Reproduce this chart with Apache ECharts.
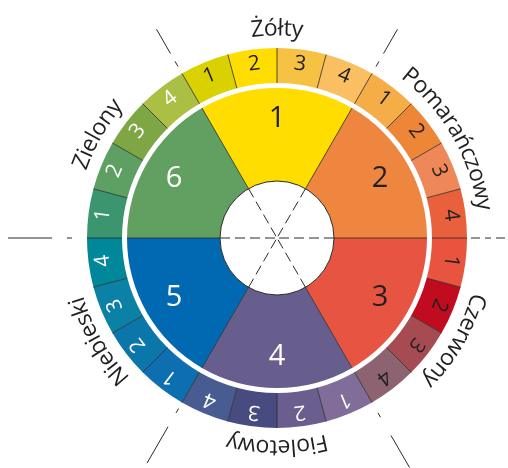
<!DOCTYPE html>
<html>
<head>
<meta charset="utf-8">
<script src="https://cdn.jsdelivr.net/npm/echarts@6/dist/echarts.min.js"></script>
<style>
html,body{margin:0;padding:0;background:#fff;}
#chart{width:508px;height:468px;}
</style>
</head>
<body>
<div id="chart"></div>
<script>
// ---- data ----
const groupNames = ['Żółty', 'Pomarańczowy', 'Czerwony', 'Fioletowy', 'Niebieski', 'Zielony'];
const innerLabels = ['1', '2', '3', '4', '5', '6'];
const innerValues = [1, 1, 1, 1, 1, 1];
const innerColors = ['#FFDD00', '#EE8640', '#E85442', '#675E8D', '#0069B2', '#62A062'];
const innerTextColors = ['#231F20', '#231F20', '#231F20', '#ffffff', '#ffffff', '#ffffff'];
const outerLabels = ['1','2','3','4', '1','2','3','4', '1','2','3','4', '1','2','3','4', '1','2','3','4', '1','2','3','4'];
const outerValues = [1,1,1,1, 1,1,1,1, 1,1,1,1, 1,1,1,1, 1,1,1,1, 1,1,1,1];
const outerColors = [
  '#D9D100', '#FFDD00', '#F5C244', '#F9BF60',
  '#F5AD47', '#EE8638', '#EF8858', '#E9613C',
  '#E9543F', '#C10B1F', '#A54B51', '#8D6372',
  '#806D9A', '#6A5E8F', '#474B80', '#485C91',
  '#0E6FB0', '#0B76AA', '#0C81A6', '#00879A',
  '#3B966F', '#5E9F63', '#7FA644', '#ABBF44'
];
const outerTextColors = [
  '#231F20','#231F20','#231F20','#231F20',
  '#231F20','#231F20','#231F20','#231F20',
  '#231F20','#231F20','#231F20','#231F20',
  '#ffffff','#ffffff','#ffffff','#ffffff',
  '#ffffff','#ffffff','#ffffff','#ffffff',
  '#ffffff','#ffffff','#ffffff','#ffffff'
];

// ---- layout ----
const CX = 277, CY = 238;
const FONT = '"Open Sans", "Noto Sans", sans-serif';
const START = 120;
// dash-dot guide rays outside the wheel (angle, inner radius, outer radius, dash pattern from outside in)
const rays = [
  {angle: 0,   r: [190, 228], dash: [9, 5, 6, 5]},
  {angle: 60,  r: [190, 241], dash: [28, 9, 6, 8]},
  {angle: 120, r: [190, 241], dash: [28, 9, 6, 8]},
  {angle: 180, r: [189, 269], dash: [44, 15, 5, 16]},
  {angle: 240, r: [190, 260], dash: [42, 16, 5, 7]},
  {angle: 300, r: [190, 265], dash: [37, 21, 5, 12]}
];

const chart = echarts.init(document.getElementById('chart'), null, {renderer: 'canvas'});

const innerData = innerValues.map((v, i) => ({
  value: v, name: innerLabels[i],
  itemStyle: {color: innerColors[i]}
}));
const innerLabelData = innerValues.map((v, i) => ({
  value: v, name: innerLabels[i],
  label: {color: innerTextColors[i]}
}));
const outerData = outerValues.map((v, i) => {
  const mid = START - (360 / outerValues.length) * (i + 0.5);
  return {
    value: v, name: outerLabels[i],
    itemStyle: {color: outerColors[i]},
    label: {color: outerTextColors[i], rotate: mid - 90}
  };
});

// curved group labels
const ctx = document.createElement('canvas').getContext('2d');
const labelSize = 23;
ctx.font = labelSize + 'px ' + FONT;
const R_TXT = 209;
const graphics = [];
groupNames.forEach((name, gi) => {
  const center = (90 - 60 * gi) * Math.PI / 180;
  const chars = Array.from(name);
  const widths = chars.map(c => ctx.measureText(c).width);
  const total = ctx.measureText(name).width;
  const scale = total / widths.reduce((a, b) => a + b, 0);
  let acc = 0;
  chars.forEach((c, k) => {
    const w = widths[k] * scale;
    const s = acc + w / 2;
    acc += w;
    const th = center + (total / 2 - s) / R_TXT;
    graphics.push({
      type: 'text',
      x: CX + R_TXT * Math.cos(th),
      y: CY - R_TXT * Math.sin(th),
      rotation: th - Math.PI / 2,
      z: 100,
      style: {
        text: c, fill: '#231F20',
        font: labelSize + 'px ' + FONT,
        fontSize: labelSize, fontFamily: FONT,
        align: 'center', verticalAlign: 'middle',
        textAlign: 'center', textVerticalAlign: 'middle'
      }
    });
  });
});

function hiddenRadius(i) {
  return {polarIndex: i, show: false, type: 'value', min: 0, max: 1};
}
function angleAx(i, interval, z, lineStyle, axisLine, startAngle) {
  return {
    polarIndex: i, type: 'value', min: 0, max: 360, interval: interval,
    startAngle: startAngle || 0, clockwise: true, z: z,
    axisLabel: {show: false}, axisTick: {show: false},
    axisLine: axisLine || {show: false},
    splitLine: {show: true, lineStyle: lineStyle},
    splitArea: {show: false}
  };
}

const polars = [
  {center: [CX, CY], radius: [155, 190]},
  {center: [CX, CY], radius: [57, 150]},
  {center: [CX, CY], radius: [0, 57]}
];
const radiusAxes = [hiddenRadius(0), hiddenRadius(1), hiddenRadius(2)];
const angleAxes = [
  angleAx(0, 15, 10, {color: '#2a2a2a', width: 0.8}),
  angleAx(1, 60, 10, {color: '#2a2a2a', width: 0.8}),
  angleAx(2, 60, 10, {color: '#2a2a2a', width: 1, type: [10, 5]},
    {show: true, lineStyle: {color: '#2a2a2a', width: 1}})
];
rays.forEach((ray) => {
  const idx = polars.length;
  polars.push({center: [CX, CY], radius: ray.r});
  radiusAxes.push(hiddenRadius(idx));
  angleAxes.push(angleAx(idx, 360, 10,
    {color: '#2a2a2a', width: 1, type: ray.dash, dashOffset: 0}, null, ray.angle));
});

const option = {
  backgroundColor: '#ffffff',
  animation: false,
  polar: polars,
  radiusAxis: radiusAxes,
  angleAxis: angleAxes,
  series: [
    {
      type: 'pie', center: [CX, CY], radius: [57, 150],
      startAngle: START, clockwise: true, silent: true,
      label: {show: false}, labelLine: {show: false},
      itemStyle: {borderWidth: 0},
      data: innerData
    },
    {
      type: 'pie', center: [CX, CY], radius: [82, 150],
      startAngle: START, clockwise: true, silent: true, z: 20,
      itemStyle: {color: 'rgba(0,0,0,0)', borderWidth: 0},
      label: {show: true, position: 'inside', formatter: '{b}', fontSize: 29,
              fontFamily: FONT, color: '#231F20'},
      labelLine: {show: false},
      data: innerLabelData
    },
    {
      type: 'pie', center: [CX, CY], radius: [155, 190],
      startAngle: START, clockwise: true, silent: true,
      itemStyle: {borderWidth: 0},
      label: {show: true, position: 'inside', formatter: '{b}', fontSize: 21,
              fontFamily: FONT, color: '#231F20'},
      labelLine: {show: false},
      labelLayout: {hideOverlap: false},
      data: outerData
    }
  ],
  graphic: graphics
};
chart.setOption(option);
</script>
</body>
</html>
